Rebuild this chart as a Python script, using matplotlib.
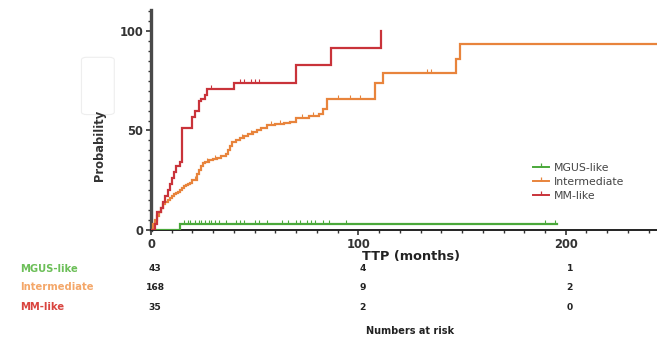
import numpy as np
import matplotlib
matplotlib.use("Agg")
import matplotlib.pyplot as plt
from matplotlib.lines import Line2D
from matplotlib.patches import FancyBboxPatch
from matplotlib.transforms import blended_transform_factory

plt.rcParams['font.family'] = ['DejaVu Sans']

# cumulative progression (%) by group: event times (months) and step levels
groups = ['MGUS-like', 'Intermediate', 'MM-like']
colors = ['#4aa83a', '#e8843c', '#c9333a']
label_colors = ['#6cbf58', '#f4a769', '#d9443f']

mgus_t = [0, 14]
mgus_p = [0, 3]
mgus_end = 196
mgus_cens = [16, 18, 19, 21, 23, 24, 26, 28, 29, 31, 33, 36, 41, 43, 45, 50, 52,
             56, 63, 66, 70, 72, 75, 77, 79, 83, 86, 94, 190, 195]

inter_t = [0, 1, 2, 3, 4, 5, 6, 7, 8, 9, 10, 11, 12, 13, 14, 15, 16, 17, 18, 19, 20,
           22, 23, 24, 25, 26, 28, 30, 32, 34, 36, 37, 38, 39, 41, 43, 45, 47, 49,
           51, 53, 56, 60, 64, 67, 70, 76, 81, 83, 85, 108, 112, 147, 149]
inter_p = [0, 3, 5, 7, 9, 11, 13, 14, 15, 16, 17, 18, 18.5, 19, 20, 21, 22, 22.5, 23,
           23.5, 25, 28, 30, 32, 33.5, 34, 35, 35.5, 36, 37, 38, 40, 42, 44, 45, 46,
           47, 48, 49, 50, 51, 52.5, 53, 53.5, 54, 56.5, 57.5, 58.5, 61, 66, 74, 79,
           86, 93.5]
inter_end = 250
inter_cens = [21, 27, 31, 44, 48, 58, 62, 73, 78, 90, 96, 101, 133, 135]

mm_t = [0, 2, 3, 5, 6, 7, 8, 9, 10, 11, 12, 14, 15, 20, 21, 23, 24, 26, 27, 40, 70, 87, 111]
mm_p = [0, 3, 9, 11, 14, 17, 20, 23, 26, 29, 32, 34, 51, 57, 60, 65, 66, 68, 71, 74,
        83, 91.5, 100]
mm_end = 111
mm_cens = [29, 43, 45, 48, 50, 52]

# numbers at risk at 0, 100 and 200 months
risk_times = [0, 100, 200]
risk_counts = [[43, 4, 1], [168, 9, 2], [35, 2, 0]]

series = [(mgus_t, mgus_p, mgus_end, mgus_cens),
          (inter_t, inter_p, inter_end, inter_cens),
          (mm_t, mm_p, mm_end, mm_cens)]


def level_at(t, p, x):
    idx = np.searchsorted(t, x, side='right') - 1
    return np.asarray(p)[idx]


fig = plt.figure(figsize=(6.57, 3.37), dpi=100)
ax = fig.add_axes([0.2298, 0.3175, 0.7702, 0.6528])

for (t, p, end, cens), col in zip(series, colors):
    xs = list(t) + [end] if end > t[-1] else list(t)
    ys = list(p) + [p[-1]] if end > t[-1] else list(p)
    ax.plot(xs, ys, drawstyle='steps-post', color=col, lw=1.6, zorder=3,
            solid_joinstyle='miter')
    ax.plot(cens, level_at(t, p, cens), ls='none', marker=2, ms=2.6,
            mew=0.8, color=col, zorder=3)

ax.set_xlim(0, 244)
ax.set_ylim(0, 110.5)

for s in ['top', 'right']:
    ax.spines[s].set_visible(False)
ax.spines['left'].set_linewidth(2.4)
ax.spines['left'].set_color('#4a4a4a')
ax.spines['bottom'].set_linewidth(1.4)
ax.spines['bottom'].set_color('#222222')

ax.set_xticks([0, 100, 200])
ax.set_xticks(np.arange(0, 245, 10), minor=True)
ax.set_yticks([0, 50, 100])
ax.set_yticks(np.arange(0, 111, 5), minor=True)
ax.tick_params(axis='both', which='major', labelsize=8.3, length=3.5, width=1.2,
               colors='#333333', pad=2)
ax.tick_params(axis='both', which='minor', length=2.2, width=1.0, colors='#333333')
for lab in ax.get_xticklabels() + ax.get_yticklabels():
    lab.set_fontweight('bold')

fig.text(0.625, 0.240, 'TTP (months)', fontsize=9.3, fontweight='bold',
         color='#222222', ha='center', va='center')
fig.text(0.152, 0.57, 'Probability', rotation=90, ha='center', va='center',
         fontsize=8.3, fontweight='bold', color='#333333')

# faint empty box left of the axis title
fig.patches.append(FancyBboxPatch((0.124, 0.66), 0.05, 0.17,
                                  boxstyle='round,pad=0,rounding_size=0.008',
                                  transform=fig.transFigure, fc='none',
                                  ec='#eeeeee', lw=0.8))

handles = [Line2D([0], [0], color=c, lw=1.4, marker=2, ms=3.0, mew=0.9)
           for c in colors]
ax.legend(handles, groups, loc='upper left', bbox_to_anchor=(0.735, 0.35),
          frameon=False, fontsize=7.8, handlelength=1.5, handletextpad=0.45,
          labelspacing=0.36, labelcolor='#444444')

# numbers-at-risk table
tr = blended_transform_factory(ax.transData, fig.transFigure)
row_y = [0.203, 0.147, 0.089]
for name, lc, counts, y in zip(groups, label_colors, risk_counts, row_y):
    fig.text(0.030, y, name, color=lc, fontsize=7.2, fontweight='bold',
             ha='left', va='center')
    for tx, n in zip(risk_times, counts):
        ax.text(tx + 2, y, str(n), transform=tr, fontsize=6.6, fontweight='bold',
                color='#222222', ha='center', va='center', clip_on=False)

fig.text(0.624, 0.018, 'Numbers at risk', fontsize=7, fontweight='bold',
         color='#222222', ha='center', va='center')

fig.savefig('out.png', dpi=100)
